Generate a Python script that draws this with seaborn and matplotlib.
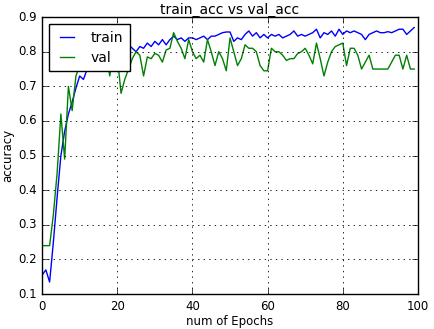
import pandas as pd
import numpy as np
import seaborn as sns
import matplotlib
matplotlib.use('Agg')
import matplotlib.pyplot as plt

epochs = list(range(100))

train_acc = [0.155, 0.17, 0.135, 0.25, 0.38, 0.50, 0.57, 0.62, 0.655, 0.695,
             0.73, 0.72, 0.75, 0.76, 0.77, 0.78, 0.79, 0.79, 0.80, 0.80,
             0.81, 0.80, 0.81, 0.82, 0.81, 0.80, 0.815, 0.81, 0.825, 0.815,
             0.83, 0.82, 0.835, 0.82, 0.835, 0.845, 0.835, 0.84, 0.83, 0.84,
             0.84, 0.835, 0.84, 0.845, 0.835, 0.845, 0.845, 0.85, 0.855, 0.857,
             0.857, 0.83, 0.84, 0.835, 0.85, 0.86, 0.845, 0.855, 0.84, 0.85,
             0.84, 0.85, 0.845, 0.85, 0.84, 0.845, 0.85, 0.86, 0.845, 0.85,
             0.845, 0.85, 0.855, 0.865, 0.84, 0.855, 0.85, 0.86, 0.845, 0.865,
             0.85, 0.86, 0.855, 0.86, 0.855, 0.85, 0.835, 0.85, 0.855, 0.86,
             0.855, 0.855, 0.858, 0.855, 0.86, 0.865, 0.865, 0.85, 0.86, 0.87]

val_acc = [0.24, 0.24, 0.24, 0.33, 0.45, 0.62, 0.49, 0.70, 0.63, 0.73,
           0.76, 0.78, 0.80, 0.79, 0.81, 0.80, 0.82, 0.80, 0.73, 0.80,
           0.79, 0.68, 0.72, 0.75, 0.78, 0.80, 0.79, 0.73, 0.785, 0.78,
           0.795, 0.79, 0.77, 0.805, 0.81, 0.855, 0.83, 0.81, 0.78, 0.835,
           0.80, 0.78, 0.79, 0.77, 0.835, 0.80, 0.76, 0.80, 0.78, 0.745,
           0.84, 0.80, 0.76, 0.78, 0.82, 0.81, 0.81, 0.80, 0.76, 0.745,
           0.745, 0.81, 0.80, 0.80, 0.79, 0.775, 0.78, 0.78, 0.795, 0.80,
           0.81, 0.79, 0.765, 0.825, 0.78, 0.73, 0.77, 0.80, 0.815, 0.82,
           0.825, 0.76, 0.81, 0.81, 0.79, 0.75, 0.77, 0.79, 0.75, 0.75,
           0.75, 0.75, 0.75, 0.77, 0.79, 0.79, 0.75, 0.79, 0.75, 0.75]

df = pd.DataFrame({
    'epoch': epochs * 2,
    'accuracy': train_acc + val_acc,
    'series': ['train'] * len(epochs) + ['val'] * len(epochs),
})

plt.style.use('classic')
fig = plt.figure(figsize=(4.34, 3.29), dpi=100)
ax = fig.add_axes([0.097, 0.106, 0.866, 0.842])

sns.lineplot(data=df, x='epoch', y='accuracy', hue='series',
             palette={'train': 'b', 'val': 'g'}, linewidth=1, ax=ax)

ax.set_xlim(0, 100)
ax.set_ylim(0.1, 0.9)
ax.set_xticks([0, 20, 40, 60, 80, 100])
ax.set_yticks(np.arange(0.1, 0.91, 0.1))
ax.grid(True, linestyle=':', color='k', linewidth=0.6)
ax.tick_params(labelsize=8.5, pad=4)
ax.set_xlabel('num of Epochs', fontsize=8.5, labelpad=2)
ax.set_ylabel('accuracy', fontsize=8.5, labelpad=3)
ax.set_title('train_acc vs val_acc', fontsize=10, pad=2)
leg = ax.legend(loc='upper left', fontsize=10, handlelength=1.6,
                handletextpad=0.9, borderpad=0.5, labelspacing=0.4,
                borderaxespad=0.5, fancybox=False)
leg.get_frame().set_edgecolor('k')

plt.savefig('out.png', dpi=100)
